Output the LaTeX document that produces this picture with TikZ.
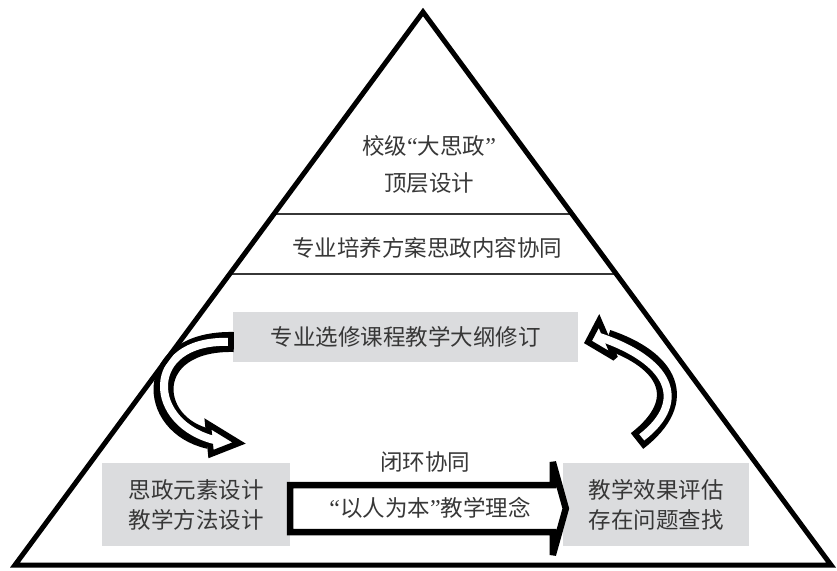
\documentclass[tikz,border=0pt]{standalone}
\usepackage{fontspec}
\newfontfamily\cjk{Noto Sans CJK SC}
\newfontfamily\quotefont{Liberation Serif}
\usetikzlibrary{positioning,calc}
\definecolor{boxgray}{RGB}{219,220,222}
\definecolor{inkgray}{RGB}{55,55,55}
\newcommand{\openq}{{\quotefont\fontsize{24}{30}\selectfont “}}
\newcommand{\closeq}{{\quotefont\fontsize{24}{30}\selectfont ”}}
\begin{document}
\begin{tikzpicture}[x=1pt,y=-1pt]
        % Define styles for nodes and arrows
        \tikzstyle{word} = [font=\cjk\fontsize{22.5}{30}\selectfont, text=inkgray, align=center, inner sep=0pt]
        \tikzstyle{graybox} = [word, rectangle, fill=boxgray, minimum height=50pt]
        \tikzstyle{edge} = [line width=5pt, line join=miter]
        \tikzstyle{layer} = [line width=1.8pt, draw=inkgray]
        \tikzstyle{tubeout} = [line width=20pt]
        \tikzstyle{tubein} = [line width=8pt, white]
        \tikzstyle{hollowtip} = [line width=6pt, fill=white, line join=miter, miter limit=3]
        \tikzstyle{bigarrow} = [line width=6.5pt, fill=white, line join=miter, miter limit=2]

        \useasboundingbox (0,0) rectangle (837,570);

        % Pyramid corners and layer cuts
        \coordinate (apex) at (423,12);
        \coordinate (baseL) at (15,565);
        \coordinate (baseR) at (831,565);
        \coordinate (cutL1) at ($(apex)!0.3653!(baseL)$);
        \coordinate (cutR1) at ($(apex)!0.3653!(baseR)$);
        \coordinate (cutL2) at ($(apex)!0.4738!(baseL)$);
        \coordinate (cutR2) at ($(apex)!0.4738!(baseR)$);
        \draw [layer] (cutL1) -- (cutR1);
        \draw [layer] (cutL2) -- (cutR2);

        % Nodes
        \node (top) [word, font=\cjk\fontsize{22.5}{37}\selectfont] at (429,164) {校级\openq 大思政\closeq\\顶层设计};
        \node (major) [word] at (427,248) {专业培养方案思政内容协同};
        \node (syllabus) [graybox, minimum width=345pt] at (405.5,337) {专业选修课程教学大纲修订};
        \node (design) [graybox, minimum width=188pt, minimum height=83pt] at (196,504.5) {思政元素设计\\教学方法设计};
        \node (assess) [graybox, minimum width=186pt, minimum height=83pt] at (656,504.5) {教学效果评估\\存在问题查找};

        % Big arrow
        \draw [bigarrow] ($(design.east)+(0,-19.5)$) -- ($(assess.west)+(-10,-19.5)$) -- ($(assess.west)+(-10,-42.5)$)
            -- ($(assess.west)+(3,4)$) -- ($(assess.west)+(-10,50.5)$) -- ($(assess.west)+(-10,27.5)$)
            -- ($(design.east)+(0,27.5)$) -- cycle;
        \node (loop) [word] at (425,462) {闭环协同};
        \node (idea) [word] at (430,508) {\openq 以人为本\closeq 教学理念};

        % Left loop arrow
        \coordinate (tailL) at ($(syllabus.west)+(1,5)$);
        \coordinate (headL) at (209.5,439);
        \draw [tubeout] (tailL) .. controls (143,340) and (146,425) .. (headL);
        \filldraw [hollowtip] (208,424) -- (239,443) -- (211,454) -- cycle;
        \draw [tubein, shorten <=6pt, shorten >=-8pt] (tailL) .. controls (143,340) and (146,425) .. (headL);

        % Right loop arrow
        \coordinate (tailR) at (637,441);
        \coordinate (headR) at (607,339.5);
        \draw [tubeout] (tailR) .. controls (690,400) and (668,360) .. (headR);
        \filldraw [hollowtip] (599,321) -- (588,342) -- (615,358) -- cycle;
        \draw [tubein, shorten <=6pt, shorten >=-8pt] (tailR) .. controls (690,400) and (668,360) .. (headR);

        % Pyramid outline
        \draw [edge] (apex) -- (baseL) -- (baseR) -- cycle;
    \end{tikzpicture}
\end{document}
